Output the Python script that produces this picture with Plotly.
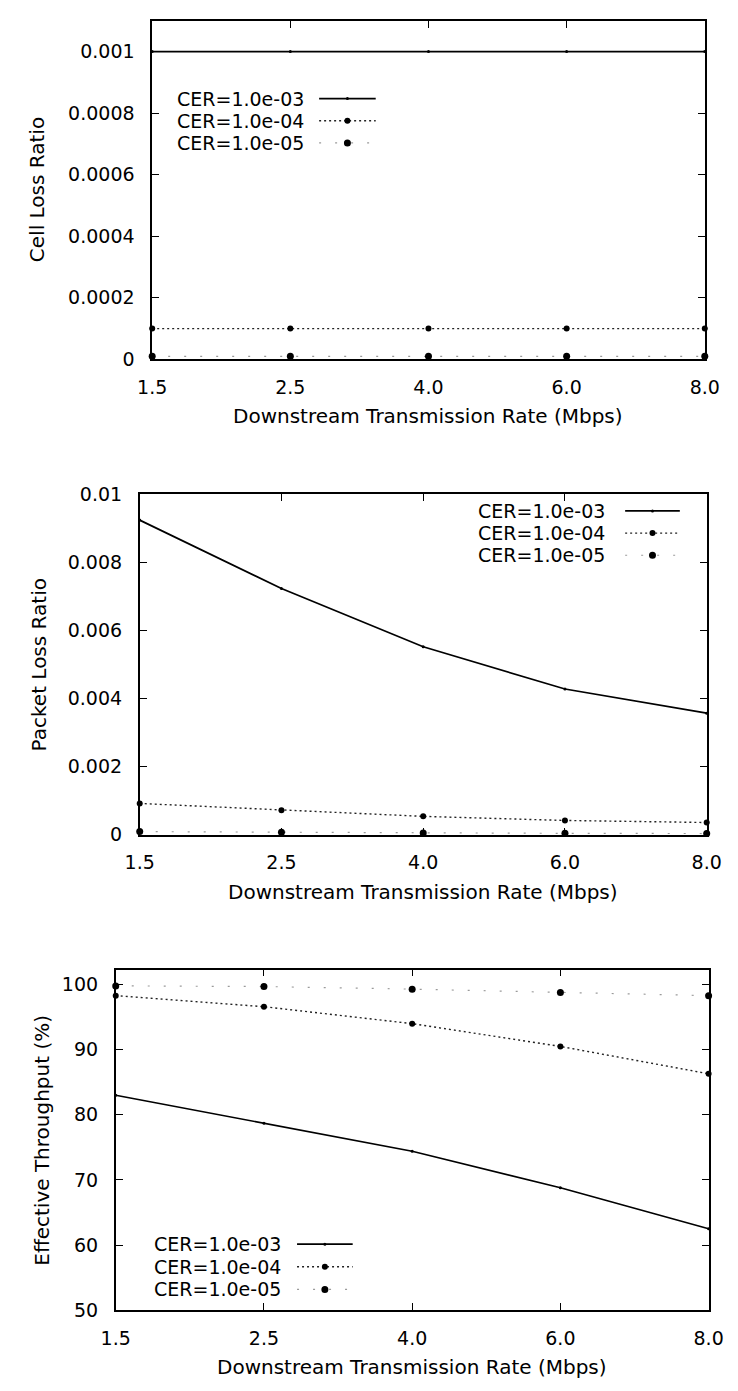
import plotly.graph_objects as go

rates = ["1.5", "2.5", "4.0", "6.0", "8.0"]
series_names = ["CER=1.0e-03", "CER=1.0e-04", "CER=1.0e-05"]

# Cell loss ratio
clr_1e3 = [0.001, 0.001, 0.001, 0.001, 0.001]
clr_1e4 = [0.0001, 0.0001, 0.0001, 0.0001, 0.0001]
clr_1e5 = [0.00001, 0.00001, 0.00001, 0.00001, 0.00001]

# Packet loss ratio
plr_1e3 = [0.00924, 0.00723, 0.00552, 0.00428, 0.00357]
plr_1e4 = [0.00092, 0.00072, 0.00054, 0.00042, 0.00036]
plr_1e5 = [0.000092, 0.000072, 0.000054, 0.000042, 0.000036]

# Effective throughput (%)
thr_1e3 = [83.0, 78.7, 74.4, 68.8, 62.5]
thr_1e4 = [98.3, 96.6, 94.0, 90.5, 86.3]
thr_1e5 = [99.8, 99.7, 99.3, 98.8, 98.3]

clr_ticks = [0, 0.0002, 0.0004, 0.0006, 0.0008, 0.001]
clr_ticktext = ["0", "0.0002", "0.0004", "0.0006", "0.0008", "0.001"]
plr_ticks = [0, 0.002, 0.004, 0.006, 0.008, 0.01]
plr_ticktext = ["0", "0.002", "0.004", "0.006", "0.008", "0.01"]
thr_ticks = [50, 60, 70, 80, 90, 100]
thr_ticktext = ["50", "60", "70", "80", "90", "100"]

W, H = 738, 1391
FONT = "DejaVu Sans"

def px(x):
    return x / W

def py(y):
    return 1 - y / H

styles = [
    dict(line=dict(color="black", width=1.7, dash="solid"),
         marker=dict(color="black", size=3, symbol="circle")),
    dict(line=dict(color="#222222", width=1.4, dash="2px,3px"),
         marker=dict(color="black", size=6, symbol="circle")),
    dict(line=dict(color="#9a9a9a", width=1.2, dash="2px,14px"),
         marker=dict(color="black", size=7, symbol="circle")),
]

panels = [
    dict(data=[clr_1e3, clr_1e4, clr_1e5], x=(143, 719), y=(10, 354),
         rng=[0, 0.0011], tv=clr_ticks, tt=clr_ticktext, ytitle="Cell Loss Ratio",
         ytx=23, leg_text_right=303, leg_rows=(89, 111.5, 134), leg_line=(317, 376)),
    dict(data=[plr_1e3, plr_1e4, plr_1e5], x=(130, 721), y=(491, 837),
         rng=[0, 0.01], tv=plr_ticks, tt=plr_ticktext, ytitle="Packet Loss Ratio",
         ytx=26, leg_text_right=617, leg_rows=(508, 530.5, 553), leg_line=(636, 693)),
    dict(data=[thr_1e3, thr_1e4, thr_1e5], x=(105, 723), y=(974, 1320),
         rng=[50, 102.3], tv=thr_ticks, tt=thr_ticktext, ytitle="Effective Throughput (%)",
         ytx=28, leg_text_right=279, leg_rows=(1253, 1276, 1299), leg_line=(294, 352)),
]

fig = go.Figure()
annotations = []
shapes = []
layout = {}

for i, p in enumerate(panels):
    n = "" if i == 0 else str(i + 1)
    xa, ya = "x" + n, "y" + n
    for j, vals in enumerate(p["data"]):
        fig.add_trace(go.Scatter(
            x=rates, y=vals, mode="lines+markers", name=series_names[j],
            xaxis=xa, yaxis=ya, showlegend=False, cliponaxis=False,
            line=styles[j]["line"], marker=styles[j]["marker"]))
    common = dict(showline=True, linecolor="black", linewidth=1.6, mirror="ticks",
                  ticks="inside", ticklen=7, tickwidth=1.3, tickcolor="black",
                  showgrid=False, zeroline=False,
                  tickfont=dict(family=FONT, size=19, color="black"))
    layout["xaxis" + n] = dict(common, domain=[px(p["x"][0]), px(p["x"][1])],
                               anchor=ya, type="category", categoryorder="array",
                               categoryarray=rates, range=[0, len(rates) - 1],
                               ticklabelstandoff=10)
    layout["yaxis" + n] = dict(common, domain=[py(p["y"][1]), py(p["y"][0])],
                               anchor=xa, range=p["rng"], tickvals=p["tv"],
                               ticktext=p["tt"], ticklabelstandoff=12)
    # axis titles
    annotations.append(dict(text="Downstream Transmission Rate (Mbps)", xref="paper", yref="paper",
                            x=px((p["x"][0] + p["x"][1]) / 2), y=py(p["y"][1] + 58),
                            xanchor="center", yanchor="middle", showarrow=False,
                            font=dict(family=FONT, size=20, color="black")))
    annotations.append(dict(text=p["ytitle"], xref="paper", yref="paper",
                            x=px(p["ytx"]), y=py((p["y"][0] + p["y"][1]) / 2),
                            xanchor="center", yanchor="middle", showarrow=False, textangle=-90,
                            font=dict(family=FONT, size=20, color="black")))
    # gnuplot-style legend: text then line sample
    for j, row in enumerate(p["leg_rows"]):
        annotations.append(dict(text=series_names[j], xref="paper", yref="paper",
                                x=px(p["leg_text_right"]), y=py(row),
                                xanchor="right", yanchor="middle", showarrow=False,
                                font=dict(family=FONT, size=19, color="black")))
        x0, x1 = p["leg_line"]
        st = styles[j]
        shapes.append(dict(type="line", xref="paper", yref="paper",
                           x0=px(x0), x1=px(x1), y0=py(row), y1=py(row),
                           line=dict(color=st["line"]["color"], width=st["line"]["width"],
                                     dash=st["line"]["dash"])))
        r = st["marker"]["size"] / 2
        cx = px((x0 + x1) / 2)
        shapes.append(dict(type="circle", xref="paper", yref="paper",
                           xsizemode="pixel", ysizemode="pixel",
                           xanchor=cx, yanchor=py(row),
                           x0=-r, x1=r, y0=-r, y1=r,
                           fillcolor="black", line=dict(width=0)))

fig.update_layout(width=W, height=H, margin=dict(l=0, r=0, t=0, b=0),
                  paper_bgcolor="white", plot_bgcolor="white",
                  annotations=annotations, shapes=shapes, **layout)

fig.write_html("out.html")
